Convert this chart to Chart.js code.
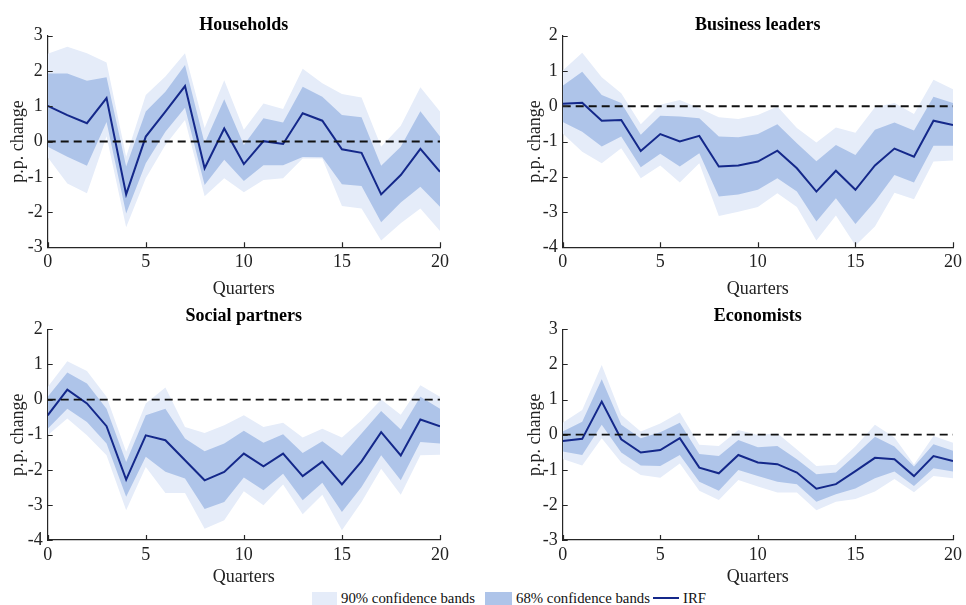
<!DOCTYPE html>
<html>
<head>
<meta charset="utf-8">
<script src="https://cdn.jsdelivr.net/npm/chart.js@4.4.1/dist/chart.umd.min.js"></script>
<style>
  html, body { margin: 0; padding: 0; background: #fff; }
  body { width: 966px; height: 605px; overflow: hidden; position: relative; font-family: "Liberation Serif", "Times New Roman", serif; }
  .panel { position: absolute; }
  .lg { position: absolute; font-size: 14.8px; color: #111; line-height: 15px; top: 591px; white-space: nowrap; }
  .sw { position: absolute; top: 592px; height: 13px; }
</style>
</head>
<body>
<div class="panel" id="p0"><canvas id="c0"></canvas></div>
<div class="panel" id="p1"><canvas id="c1"></canvas></div>
<div class="panel" id="p2"><canvas id="c2"></canvas></div>
<div class="panel" id="p3"><canvas id="c3"></canvas></div>

<div class="sw" style="left:312px;width:25px;background:#e5ecf9;"></div>
<div class="lg" style="left:341px;">90% confidence bands</div>
<div class="sw" style="left:485px;width:27px;background:#aec4e9;"></div>
<div class="lg" style="left:516px;">68% confidence bands</div>
<div style="position:absolute;left:653px;top:597px;width:26px;height:2px;background:#14288a;"></div>
<div class="lg" style="left:683px;">IRF</div>

<script>
// ---------- DATA ----------
const quarters = [0,1,2,3,4,5,6,7,8,9,10,11,12,13,14,15,16,17,18,19,20];
const panelTitles = ["Households", "Business leaders", "Social partners", "Economists"];
const yRanges = [[-3, 3], [-4, 2], [-4, 2], [-3, 3]];
const xTickStep = 5;
const zeroRef = 0;

// Households
const hhIRF  = [1.01, 0.75, 0.52, 1.23, -1.50, 0.14, 0.85, 1.57, -0.76, 0.37, -0.64, 0.01, -0.07, 0.80, 0.59, -0.22, -0.32, -1.50, -0.95, -0.21, -0.86];
const hhHi68 = [1.93, 1.93, 1.72, 1.82, -0.71, 0.85, 1.41, 2.17, -0.05, 1.20, -0.10, 0.66, 0.54, 1.55, 1.27, 0.75, 0.69, -0.69, -0.15, 0.86, 0.14];
const hhLo68 = [-0.15, -0.43, -0.69, 0.55, -2.04, -0.62, 0.28, 0.96, -1.23, -0.52, -1.12, -0.67, -0.67, -0.44, -0.45, -1.21, -1.26, -2.29, -1.73, -1.28, -1.85];
const hhHi90 = [2.49, 2.69, 2.50, 2.24, -0.43, 1.32, 1.84, 2.50, 0.38, 1.74, 0.33, 1.08, 0.92, 2.06, 1.65, 1.35, 1.25, -0.15, 0.45, 1.54, 0.85];
const hhLo90 = [-0.45, -1.19, -1.47, 0.15, -2.43, -1.04, -0.10, 0.61, -1.55, -1.04, -1.44, -1.09, -1.04, -0.48, -0.48, -1.83, -1.90, -2.81, -2.32, -1.90, -2.54];

// Business leaders
const blIRF  = [0.07, 0.10, -0.41, -0.39, -1.27, -0.79, -1.00, -0.84, -1.71, -1.68, -1.57, -1.26, -1.76, -2.42, -1.83, -2.37, -1.68, -1.20, -1.43, -0.41, -0.53];
const blHi68 = [0.58, 0.98, 0.32, 0.09, -0.81, -0.27, -0.29, -0.34, -0.86, -0.88, -0.79, -0.51, -1.05, -1.56, -1.10, -1.38, -0.67, -0.46, -0.69, 0.27, 0.09];
const blLo68 = [-0.45, -0.72, -1.14, -0.86, -1.73, -1.35, -1.71, -1.33, -2.56, -2.50, -2.37, -2.04, -2.42, -3.27, -2.61, -3.34, -2.70, -1.95, -2.16, -1.12, -1.12];
const blHi90 = [1.01, 1.52, 0.82, 0.37, -0.51, 0.04, 0.18, -0.06, -0.31, -0.36, -0.25, -0.01, -0.62, -1.03, -0.60, -0.75, -0.03, 0.09, -0.22, 0.75, 0.48];
const blLo90 = [-0.77, -1.29, -1.62, -1.19, -2.04, -1.68, -2.16, -1.62, -3.11, -2.99, -2.86, -2.47, -2.86, -3.81, -3.10, -3.95, -3.41, -2.45, -2.64, -1.57, -1.54];

// Social partners
const spIRF  = [-0.45, 0.28, -0.11, -0.76, -2.28, -1.02, -1.16, -1.73, -2.30, -2.06, -1.54, -1.90, -1.54, -2.18, -1.77, -2.42, -1.76, -0.93, -1.59, -0.57, -0.76];
const spHi68 = [0.08, 0.77, 0.46, -0.26, -1.78, -0.45, -0.26, -1.11, -1.47, -1.25, -0.89, -1.23, -0.99, -1.52, -1.19, -1.60, -0.97, -0.33, -0.85, 0.08, -0.26];
const spLo68 = [-0.83, -0.26, -0.64, -1.25, -2.77, -1.63, -2.06, -2.25, -3.12, -2.92, -2.22, -2.58, -2.11, -2.87, -2.37, -3.20, -2.49, -1.59, -2.30, -1.21, -1.25];
const spHi90 = [0.36, 1.09, 0.81, 0.08, -1.49, -0.11, 0.34, -0.78, -0.95, -0.73, -0.45, -0.78, -0.66, -1.08, -0.83, -1.08, -0.59, 0.00, -0.43, 0.41, 0.08];
const spLo90 = [-1.02, -0.54, -1.02, -1.59, -3.15, -1.92, -2.66, -2.66, -3.68, -3.44, -2.61, -3.01, -2.42, -3.27, -2.71, -3.72, -2.92, -1.97, -2.71, -1.59, -1.57];

// Economists
const ecIRF  = [-0.18, -0.12, 0.94, -0.13, -0.51, -0.44, -0.10, -0.94, -1.10, -0.58, -0.79, -0.84, -1.08, -1.54, -1.41, -1.04, -0.66, -0.70, -1.18, -0.61, -0.75];
const ecHi68 = [0.09, 0.37, 1.58, 0.28, -0.10, 0.07, 0.34, -0.55, -0.61, -0.15, -0.36, -0.32, -0.70, -1.13, -1.08, -0.58, -0.06, -0.34, -0.91, -0.27, -0.46];
const ecLo68 = [-0.48, -0.58, 0.28, -0.51, -0.88, -0.89, -0.58, -1.34, -1.60, -1.01, -1.18, -1.34, -1.41, -1.91, -1.70, -1.53, -1.24, -1.05, -1.46, -0.96, -1.05];
const ecHi90 = [0.34, 0.70, 1.98, 0.56, 0.09, 0.32, 0.63, -0.29, -0.32, 0.13, -0.01, 0.04, -0.42, -0.89, -0.86, -0.34, 0.28, -0.08, -0.85, -0.04, -0.23];
const ecLo90 = [-0.69, -0.88, -0.10, -0.79, -1.15, -1.23, -0.82, -1.60, -1.86, -1.29, -1.48, -1.65, -1.65, -2.15, -1.91, -1.83, -1.62, -1.26, -1.64, -1.18, -1.24];

// ---------- STYLE / LAYOUT ----------
const COL_90 = '#e5ecf9';
const COL_68 = '#aec4e9';
const COL_IRF = '#14288a';
const AXIS_COL = '#262626';
const FONT = '"Liberation Serif", "Times New Roman", serif';
const TICK_SIZE = 18;

const series = [
  [hhIRF, hhHi68, hhLo68, hhHi90, hhLo90],
  [blIRF, blHi68, blLo68, blHi90, blLo90],
  [spIRF, spHi68, spLo68, spHi90, spLo90],
  [ecIRF, ecHi68, ecLo68, ecHi90, ecLo90]
];

// container & plot-area geometry (pixels within container)
const layouts = [
  {left: 0,   top: 0,   w: 483, h: 300, pl: 47.7, pr: 440,   pt: 35.7, pb: 247.3, titleY: 25,   xTitleY: 283, yTitleX: 18},
  {left: 483, top: 0,   w: 483, h: 300, pl: 79.7, pr: 472.3, pt: 35.7, pb: 247.3, titleY: 25,   xTitleY: 283, yTitleX: 52},
  {left: 0,   top: 300, w: 483, h: 288, pl: 47.7, pr: 440,   pt: 29.3, pb: 240,   titleY: 16.7, xTitleY: 276, yTitleX: 18},
  {left: 483, top: 300, w: 483, h: 288, pl: 79.7, pr: 472.3, pt: 29.3, pb: 240,   titleY: 16.7, xTitleY: 276, yTitleX: 52}
];

// inward tick marks (MATLAB style) + panel title centred on the plot area
const decor = {
  id: 'decor',
  afterDraw(chart, args, opts) {
    const {ctx, chartArea: a} = chart;
    const xs = chart.scales.x, ys = chart.scales.y;
    ctx.save();
    ctx.strokeStyle = AXIS_COL;
    ctx.lineWidth = 1.2;
    ctx.beginPath();
    xs.ticks.forEach(t => {
      const px = Math.round(xs.getPixelForValue(t.value)) + 0.5;
      ctx.moveTo(px, a.bottom);
      ctx.lineTo(px, a.bottom - 5);
    });
    ys.ticks.forEach(t => {
      const py = Math.round(ys.getPixelForValue(t.value)) + 0.5;
      ctx.moveTo(a.left, py);
      ctx.lineTo(a.left + 5, py);
    });
    ctx.stroke();
    ctx.fillStyle = '#000';
    ctx.font = 'bold 18px ' + FONT;
    ctx.textAlign = 'center';
    ctx.textBaseline = 'middle';
    ctx.fillText(opts.text, (a.left + a.right) / 2, opts.y);
    ctx.restore();
  }
};

function pts(arr) { return quarters.map((q, i) => ({x: q, y: arr[i]})); }

for (let k = 0; k < 4; k++) {
  const L = layouts[k];
  const div = document.getElementById('p' + k);
  div.style.left = L.left + 'px';
  div.style.top = L.top + 'px';
  div.style.width = L.w + 'px';
  div.style.height = L.h + 'px';
  const cv = document.getElementById('c' + k);
  cv.width = L.w; cv.height = L.h;
  cv.style.width = L.w + 'px'; cv.style.height = L.h + 'px';

  const [irf, hi68, lo68, hi90, lo90] = series[k];
  const qFirst = quarters[0], qLast = quarters[quarters.length - 1];
  const none = 'rgba(0,0,0,0)';

  new Chart(cv, {
    type: 'line',
    data: {
      datasets: [
        {label: 'zero', data: [{x: qFirst, y: zeroRef}, {x: qLast, y: zeroRef}], borderColor: '#111', borderWidth: 1.8, borderDash: [8, 5], pointRadius: 0, fill: false, order: 0},
        {label: 'IRF', data: pts(irf), borderColor: COL_IRF, borderWidth: 2, pointRadius: 0, fill: false, order: 1},
        {label: 'hi68', data: pts(hi68), borderColor: none, borderWidth: 0, pointRadius: 0, backgroundColor: COL_68, fill: 3, order: 2},
        {label: 'lo68', data: pts(lo68), borderColor: none, borderWidth: 0, pointRadius: 0, fill: false, order: 2},
        {label: 'hi90', data: pts(hi90), borderColor: none, borderWidth: 0, pointRadius: 0, backgroundColor: COL_90, fill: 5, order: 3},
        {label: 'lo90', data: pts(lo90), borderColor: none, borderWidth: 0, pointRadius: 0, fill: false, order: 3}
      ]
    },
    options: {
      responsive: false,
      animation: false,
      devicePixelRatio: 1,
      layout: {padding: {left: 0, top: L.pt, bottom: 0, right: L.w - L.pr}},
      plugins: {
        legend: {display: false},
        tooltip: {enabled: false},
        title: {display: false},
        decor: {text: panelTitles[k], y: L.titleY}
      },
      scales: {
        x: {
          type: 'linear',
          min: qFirst, max: qLast,
          grid: {display: false, drawTicks: false},
          border: {display: true, color: AXIS_COL, width: 1.2},
          ticks: {stepSize: xTickStep, color: '#222', font: {family: FONT, size: TICK_SIZE}, padding: 4, maxRotation: 0},
          title: {display: true, text: 'Quarters', color: '#222', font: {family: FONT, size: TICK_SIZE, lineHeight: 1.2}, padding: {top: L.h - L.xTitleY - 10.8, bottom: 0}},
          afterFit(s) { s.height = L.h - L.pb; }
        },
        y: {
          type: 'linear',
          min: yRanges[k][0], max: yRanges[k][1],
          grid: {display: false, drawTicks: false},
          border: {display: true, color: AXIS_COL, width: 1.2},
          ticks: {stepSize: 1, color: '#222', font: {family: FONT, size: TICK_SIZE}, padding: 5},
          title: {display: true, text: 'p.p. change', color: '#222', font: {family: FONT, size: TICK_SIZE, lineHeight: 1.2}, padding: {top: L.yTitleX - 10.8, bottom: 0}},
          afterFit(s) { s.width = L.pl; }
        }
      }
    },
    plugins: [decor]
  });
}
</script>
</body>
</html>
